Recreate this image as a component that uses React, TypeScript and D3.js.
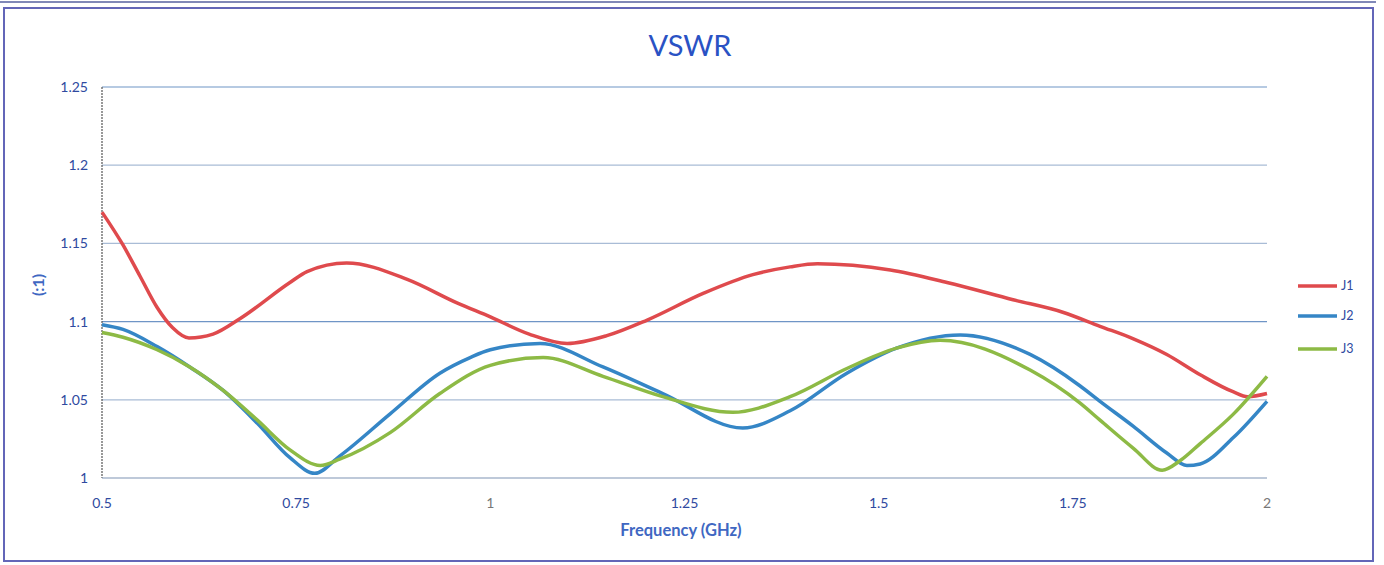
import React from 'react'
import * as d3 from 'd3'

const yTicks = [1, 1.05, 1.1, 1.15, 1.2, 1.25]
const xTicks = [0.5, 0.75, 1, 1.25, 1.5, 1.75, 2]

// [frequency GHz, VSWR]
const j1: [number, number][] = [
  [0.5, 1.170], [0.527, 1.149], [0.549, 1.129], [0.571, 1.109], [0.591, 1.096],
  [0.612, 1.0895], [0.643, 1.092], [0.678, 1.102], [0.742, 1.125], [0.764, 1.132],
  [0.815, 1.1375], [0.893, 1.127], [0.957, 1.112], [1.0, 1.103], [1.05, 1.092],
  [1.099, 1.086], [1.15, 1.091], [1.202, 1.101], [1.274, 1.118], [1.338, 1.130],
  [1.386, 1.135], [1.421, 1.137], [1.515, 1.133], [1.588, 1.125], [1.673, 1.114],
  [1.737, 1.106], [1.785, 1.097], [1.828, 1.089], [1.871, 1.079], [1.914, 1.066],
  [1.957, 1.055], [1.975, 1.052], [2.0, 1.054],
]
const j2: [number, number][] = [
  [0.5, 1.098], [0.527, 1.095], [0.571, 1.084], [0.613, 1.071], [0.656, 1.056],
  [0.70, 1.035], [0.742, 1.013], [0.774, 1.003], [0.806, 1.014], [0.871, 1.041],
  [0.935, 1.067], [0.974, 1.077], [1.0, 1.082], [1.064, 1.086], [1.145, 1.071],
  [1.222, 1.054], [1.325, 1.032], [1.386, 1.043], [1.459, 1.067], [1.523, 1.083],
  [1.605, 1.0915], [1.695, 1.079], [1.759, 1.059], [1.785, 1.049], [1.828, 1.033],
  [1.871, 1.016], [1.897, 1.008], [1.914, 1.009], [1.957, 1.026], [2.0, 1.049],
]
const j3: [number, number][] = [
  [0.5, 1.093], [0.527, 1.090], [0.571, 1.082], [0.613, 1.071], [0.656, 1.056],
  [0.70, 1.037], [0.742, 1.018], [0.781, 1.008], [0.806, 1.012], [0.871, 1.029],
  [0.935, 1.054], [1.0, 1.072], [1.068, 1.077], [1.145, 1.065], [1.222, 1.052],
  [1.312, 1.042], [1.386, 1.052], [1.459, 1.070], [1.523, 1.083], [1.579, 1.088],
  [1.695, 1.069], [1.759, 1.048], [1.785, 1.037], [1.828, 1.019], [1.865, 1.005],
  [1.888, 1.011], [1.914, 1.022], [1.957, 1.041], [2.0, 1.065],
]

const series = [
  { name: 'J1', data: j1, color: '#df4a4d' },
  { name: 'J2', data: j2, color: '#3586c6' },
  { name: 'J3', data: j3, color: '#8dba45' },
]

const font = 'Lato, "Open Sans", sans-serif'
const textBlue = '#2f4aa0'

export default function App() {
  const width = 1384
  const height = 565
  const left = 102, right = 1267, top = 87, bottom = 478

  const x = d3.scaleLinear().domain([0.5, 2]).range([left, right])
  const y = d3.scaleLinear().domain([1, 1.25]).range([bottom, top])

  const line = d3.line<[number, number]>()
    .x((d) => x(d[0]))
    .y((d) => y(d[1]))
    .curve(d3.curveMonotoneX)

  return (
    <svg width={width} height={height} style={{ position: 'fixed', left: 0, top: 0, background: '#fff' }}>
      <line x1={0} x2={1376} y1={2} y2={2} stroke="#8088b8" strokeWidth={2} />
      <rect x={4} y={8} width={1369} height={553} fill="#fff" stroke="#6366b8" strokeWidth={2} />

      <text x={690} y={56} textAnchor="middle" fontFamily={font} fontSize={29} fill="#2a52c4">VSWR</text>

      {yTicks.map((t) => (
        <g key={t}>
          {t > 1 && (
            <line x1={left} x2={right} y1={y(t)} y2={y(t)}
              stroke={t === 1.25 || t === 1.1 ? '#6f95c6' : '#a9bcd6'} strokeWidth={1.2} />
          )}
          <text x={88} y={y(t) + 5} textAnchor="end" fontFamily={font} fontSize={14} fill={textBlue}>{t}</text>
        </g>
      ))}
      <line x1={left} x2={left} y1={top} y2={bottom} stroke="#555" strokeWidth={1.2} strokeDasharray="2,1" />
      <line x1={left} x2={right} y1={bottom} y2={bottom} stroke="#7e93b3" strokeWidth={1.2} />

      {xTicks.map((t) => (
        <text key={t} x={x(t)} y={508} textAnchor="middle" fontFamily={font} fontSize={14}
          fill={t === 1 || t === 2 ? '#777' : textBlue}>{t}</text>
      ))}

      <text x={681} y={536} textAnchor="middle" fontFamily={font} fontSize={16.5} fontWeight="bold" fill="#4067c2">Frequency (GHz)</text>
      <text transform="translate(44,285) rotate(-90)" textAnchor="middle" fontFamily={font} fontSize={16} fontWeight="bold" fill="#4067c2">(:1)</text>

      {series.map((s) => (
        <path key={s.name} d={line(s.data) || ''} fill="none" stroke={s.color} strokeWidth={3.5} strokeLinejoin="round" />
      ))}

      {series.map((s, i) => {
        const ly = [286, 316, 349][i]
        return (
          <g key={s.name}>
            <line x1={1298} x2={1337} y1={ly} y2={ly} stroke={s.color} strokeWidth={3.5} />
            <text x={1341} y={ly + 4} fontFamily={font} fontSize={12.5} fill={textBlue}>{s.name}</text>
          </g>
        )
      })}
    </svg>
  )
}
